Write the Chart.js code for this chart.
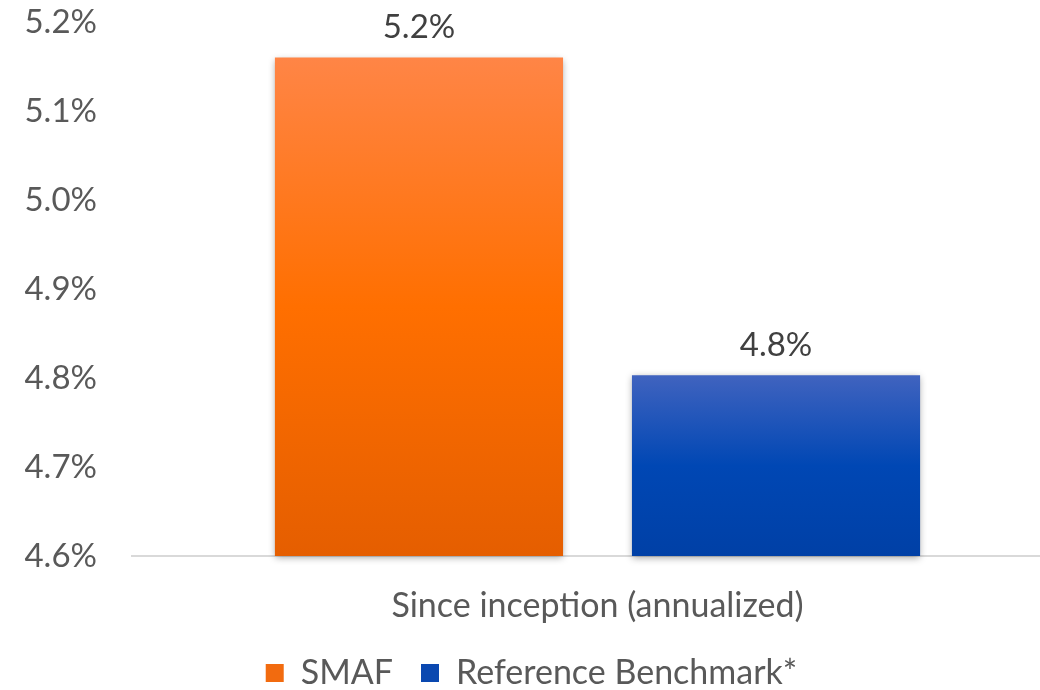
<!DOCTYPE html>
<html>
<head>
<meta charset="utf-8">
<script src="https://cdn.jsdelivr.net/npm/chart.js@4.4.1/dist/chart.umd.min.js"></script>
<style>
  html, body { margin: 0; padding: 0; overflow: hidden; background: #fff; }
  #wrap { position: relative; width: 1063px; height: 700px; }
</style>
</head>
<body>
<div id="wrap"><canvas id="c"></canvas></div>
<script>
const categories = ['Since inception (annualized)'];
const seriesNames = ['SMAF', 'Reference Benchmark*'];
const smafValues = [5.16];
const benchmarkValues = [4.803];
const yTicks = { min: 4.6, max: 5.2, step: 0.1 };

const gradStops = [
  ['#FF8546', '#FF6F00', '#E55E00'],
  ['#4063BF', '#0047B4', '#0040A6']
];
const baseColors = ['#F26B0F', '#0A48B0'];
const textColor = '#595959';
const FONT = 'Lato, "Open Sans", sans-serif';

const barStyle = {
  id: 'barStyle',
  beforeDatasetDraw(chart, args) {
    const ctx = chart.ctx;
    const meta = args.meta;
    meta.data.forEach(el => {
      const g = ctx.createLinearGradient(0, el.y, 0, el.base);
      const s = gradStops[args.index];
      g.addColorStop(0, s[0]);
      g.addColorStop(0.5, s[1]);
      g.addColorStop(1, s[2]);
      el.options.backgroundColor = g;
    });
    ctx.save();
    ctx.shadowColor = 'rgba(0,0,0,0.35)';
    ctx.shadowBlur = 7;
    ctx.shadowOffsetX = 0;
    ctx.shadowOffsetY = 2;
  },
  afterDatasetDraw(chart) {
    chart.ctx.restore();
  }
};

const valueLabels = {
  id: 'valueLabels',
  afterDatasetsDraw(chart) {
    const ctx = chart.ctx;
    ctx.save();
    ctx.font = '33px ' + FONT;
    ctx.fillStyle = '#404040';
    ctx.textAlign = 'center';
    ctx.textBaseline = 'middle';
    chart.data.datasets.forEach((ds, i) => {
      const meta = chart.getDatasetMeta(i);
      meta.data.forEach((el, j) => {
        ctx.fillText(ds.data[j].toFixed(1) + '%', el.x, el.y - 30);
      });
    });
    ctx.restore();
  }
};

new Chart(document.getElementById('c'), {
  type: 'bar',
  data: {
    labels: categories,
    datasets: [
      { label: seriesNames[0], data: smafValues, backgroundColor: baseColors[0], clip: false },
      { label: seriesNames[1], data: benchmarkValues, backgroundColor: baseColors[1], clip: false }
    ]
  },
  options: {
    responsive: true,
    maintainAspectRatio: false,
    animation: false,
    devicePixelRatio: 1,
    layout: { padding: { top: 22, left: 0, right: 0, bottom: 0 } },
    datasets: { bar: { categoryPercentage: 0.767, barPercentage: 0.807, borderWidth: 0, base: yTicks.min } },
    scales: {
      x: {
        grid: { display: false, drawTicks: false },
        border: { display: true, color: '#D9D9D9', width: 2 },
        ticks: { color: textColor, font: { family: FONT, size: 34 }, padding: 30 },
        afterFit(s) { s.height = 72; }
      },
      y: {
        min: yTicks.min, max: yTicks.max,
        grid: { display: false, drawTicks: true, tickLength: 33 },
        border: { display: false },
        ticks: {
          stepSize: yTicks.step,
          color: textColor,
          font: { family: FONT, size: 33 },
          padding: 2,
          callback: v => v.toFixed(1) + '%'
        },
        afterFit(s) { s.width = 132; }
      }
    },
    plugins: {
      legend: {
        position: 'bottom',
        labels: {
          color: textColor,
          font: { family: FONT, size: 34 },
          boxWidth: 18, boxHeight: 18,
          padding: 28
        }
      },
      tooltip: { enabled: false }
    }
  },
  plugins: [barStyle, valueLabels]
});
</script>
</body>
</html>
